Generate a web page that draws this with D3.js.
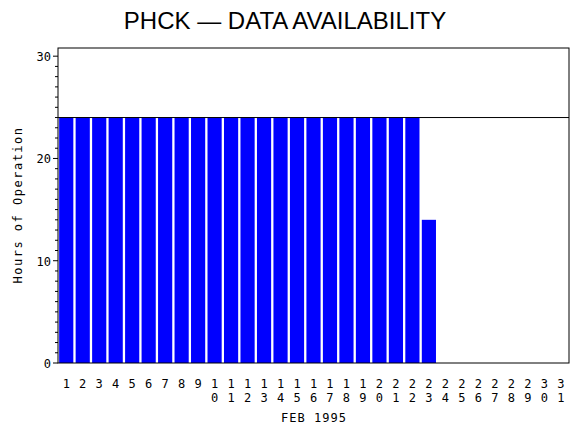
<!DOCTYPE html>
<html><head><meta charset="utf-8">
<script src="https://cdn.jsdelivr.net/npm/d3@7"></script>
<style>body{margin:0;background:#fff}text{font-family:"DejaVu Sans Mono",monospace}</style>
</head><body><svg id="c" width="570" height="430"></svg>
<script>
const days = d3.range(1,32).map(String);
const hours = [24,24,24,24,24,24,24,24,24,24,24,24,24,24,24,24,24,24,24,24,24,24,14,0,0,0,0,0,0,0,0];
const yTicks = [0,10,20,30];
const refLine = 24;
const title = "PHCK — DATA AVAILABILITY";
const xLabel = "FEB 1995", yLabel = "Hours of Operation";

const svg = d3.select("#c");
const L=58,R=569,T=48,B=363;
const x = d3.scaleBand().domain(days).range([L,R]).paddingInner(0.14).paddingOuter(0.07);
const y = d3.scaleLinear().domain([0,30.8]).range([B,T]);

svg.append("text").attr("x",285).attr("y",29).attr("text-anchor","middle")
  .style("font-family","Liberation Sans, sans-serif").attr("font-size",24).text(title);

svg.selectAll("rect.bar").data(hours.map((h,i)=>({d:days[i],h}))).enter().append("rect")
  .attr("x",d=>x(d.d)).attr("width",x.bandwidth()).attr("y",d=>y(d.h)).attr("height",d=>B-y(d.h))
  .attr("fill","#0000ff");

svg.append("rect").attr("x",L).attr("y",T).attr("width",R-L).attr("height",B-T)
  .attr("fill","none").attr("stroke","#000");
svg.append("line").attr("x1",L).attr("x2",R).attr("y1",y(refLine)).attr("y2",y(refLine)).attr("stroke","#000");

// y axis ticks
svg.selectAll("line.min").data(d3.range(0,31)).enter().append("line")
  .attr("x1",L).attr("x2",d=>d%10===0?L-5:L-3).attr("y1",d=>y(d)).attr("y2",d=>y(d)).attr("stroke","#000");
svg.selectAll("text.yt").data(yTicks).enter().append("text")
  .attr("x",L-7).attr("y",d=>y(d)+5).attr("text-anchor","end").attr("font-size",12).text(d=>d);

// x labels stacked digits
const xl = svg.selectAll("g.xl").data(days).enter().append("g")
  .attr("transform",d=>`translate(${x(d)+x.bandwidth()/2},0)`);
xl.each(function(d){
  const g=d3.select(this);
  d.split("").forEach((c,i)=>g.append("text").attr("y",388+i*14).attr("text-anchor","middle").attr("font-size",12).text(c));
});
svg.append("text").attr("x",314).attr("y",422).attr("text-anchor","middle").attr("font-size",12)
  .attr("letter-spacing",1).text(xLabel);
svg.append("text").attr("transform","translate(22,205) rotate(-90)").attr("text-anchor","middle")
  .attr("font-size",12).attr("letter-spacing",1.5).text(yLabel);
</script></body></html>
